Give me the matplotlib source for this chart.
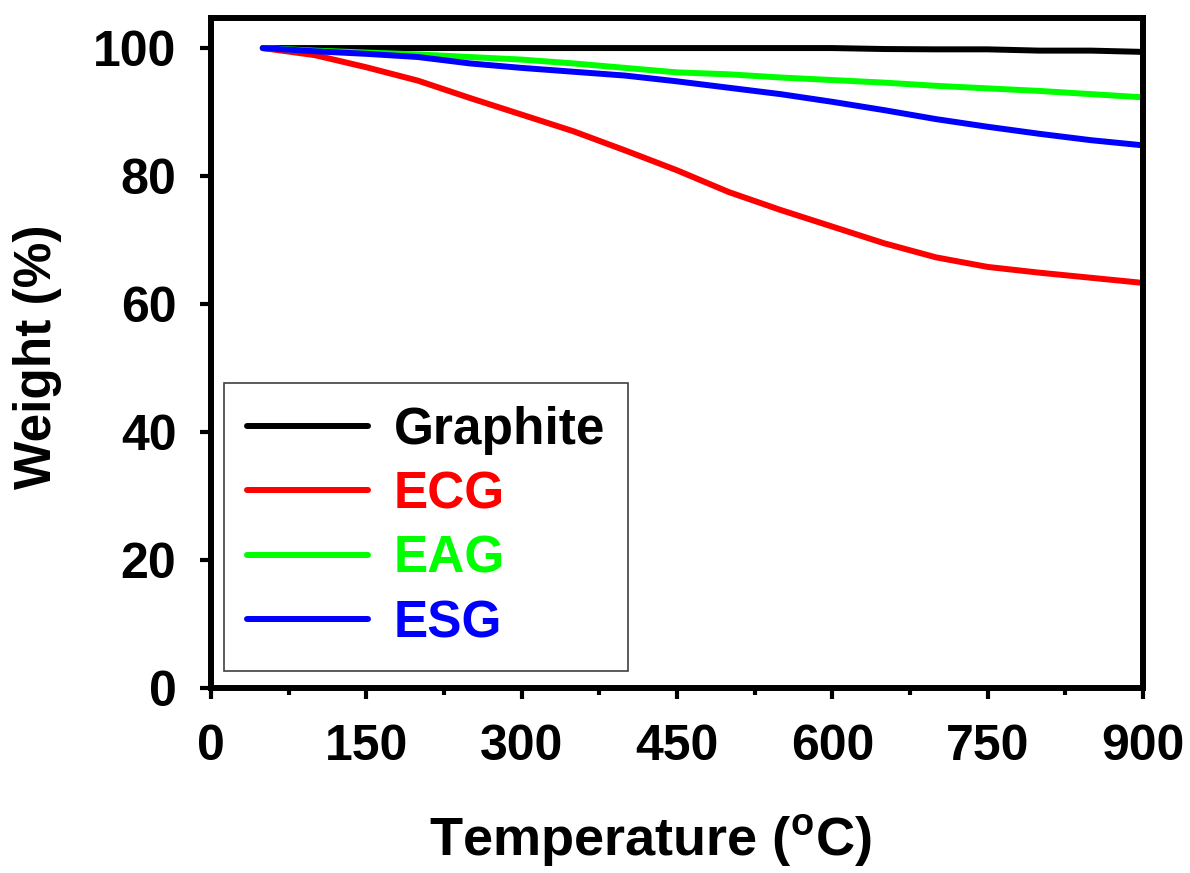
import numpy as np
import matplotlib
matplotlib.use("Agg")
import matplotlib.pyplot as plt
from matplotlib.ticker import MultipleLocator

# ====== FONTS ======
plt.rcParams['font.family'] = ['Liberation Sans', 'DejaVu Sans']
plt.rcParams['font.weight'] = 'bold'
plt.rcParams['mathtext.fontset'] = 'custom'
plt.rcParams['mathtext.rm'] = 'Liberation Sans:bold'
plt.rcParams['mathtext.bf'] = 'Liberation Sans:bold'

# ====== DATA ======
temperature = [50, 100, 150, 200, 250, 300, 350, 400, 450,
               500, 550, 600, 650, 700, 750, 800, 850, 900]
graphite = [100, 100, 100, 100, 100, 100, 100, 100, 100,
            100, 100, 100, 99.85, 99.8, 99.8, 99.6, 99.6, 99.4]
ecg = [100, 98.9, 97.0, 94.9, 92.2, 89.6, 87.0, 84.0, 80.9,
       77.5, 74.7, 72.1, 69.5, 67.3, 65.8, 64.9, 64.1, 63.3]
eag = [100, 99.6, 99.3, 99.0, 98.6, 98.2, 97.6, 96.9, 96.2,
       95.9, 95.4, 95.0, 94.6, 94.1, 93.7, 93.3, 92.8, 92.3]
esg = [100, 99.5, 99.1, 98.6, 97.6, 96.9, 96.3, 95.7, 94.8,
       93.8, 92.8, 91.6, 90.3, 88.9, 87.7, 86.6, 85.6, 84.8]

series = [("Graphite", graphite, "#000000"),
          ("ECG", ecg, "#ff0000"),
          ("EAG", eag, "#00ff00"),
          ("ESG", esg, "#0000ff")]

# ====== FIGURE ======
fig = plt.figure(figsize=(11.9, 8.73), dpi=100)
ax = fig.add_axes([0.1773, 0.2119, 0.7832, 0.7675])

for name, values, color in series:
    ax.plot(temperature, values, color=color, lw=4.3, label=name,
            solid_capstyle='round', solid_joinstyle='round')

ax.set_xlim(0, 900)
ax.set_ylim(0, 104.7)
ax.xaxis.set_major_locator(MultipleLocator(150))
ax.xaxis.set_minor_locator(MultipleLocator(75))
ax.yaxis.set_major_locator(MultipleLocator(20))

for side in ax.spines.values():
    side.set_linewidth(4.3)
    side.set_capstyle('projecting')

ax.tick_params(axis='both', which='major', direction='out', length=8,
               width=3, labelsize=36, top=False, right=False)
ax.tick_params(axis='x', which='major', pad=18)
ax.tick_params(axis='y', which='major', pad=17)
ax.tick_params(axis='x', which='minor', direction='out', length=5, width=3)
for t in ax.xaxis.get_majorticklines() + ax.yaxis.get_majorticklines() \
        + ax.xaxis.get_minorticklines():
    t.set_solid_capstyle('round')

ax.set_xlabel(r"Temperature ($^{\mathrm{o}}$C)", fontsize=39, fontweight='bold')
ax.set_ylabel("Weight (%)", fontsize=37, fontweight='bold')
ax.xaxis.set_label_coords(0.471, -0.185)
ax.yaxis.set_label_coords(-0.16, 0.494)

# ====== LEGEND ======
leg = ax.legend(loc='lower left', bbox_to_anchor=(0.014, 0.025),
                borderaxespad=0, fontsize=37, frameon=True, fancybox=False,
                handlelength=2.35, handletextpad=0.5, labelspacing=0.3,
                borderpad=0.45, labelcolor='linecolor')
leg.get_frame().set_edgecolor('#404040')
leg.get_frame().set_linewidth(1.2)
leg.get_frame().set_alpha(1)
for line in leg.get_lines():
    line.set_solid_capstyle('round')

fig.savefig("out.png", dpi=100)
